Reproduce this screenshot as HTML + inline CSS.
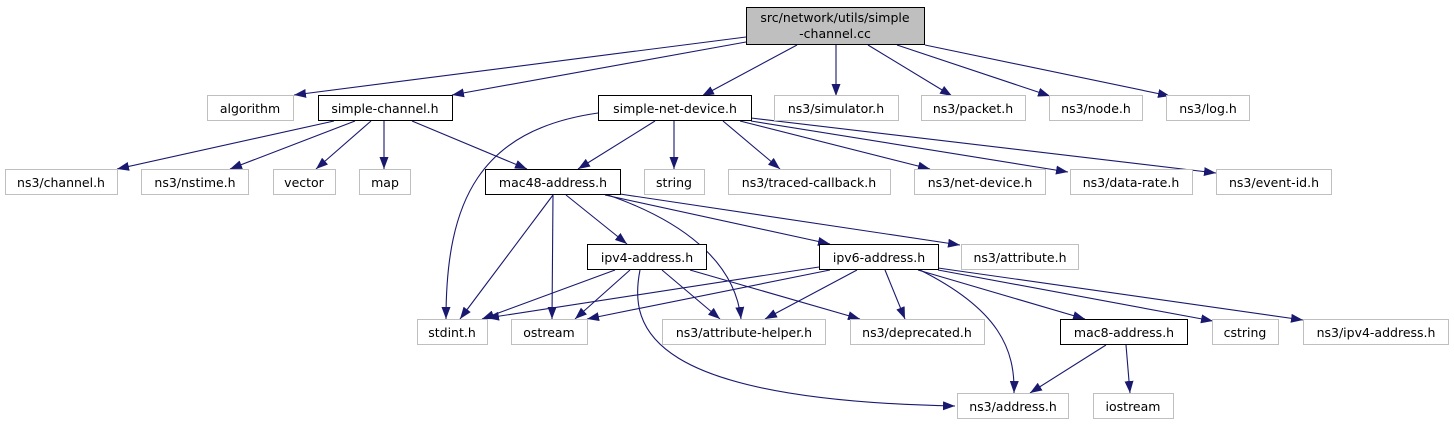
<!DOCTYPE html>
<html><head><meta charset="utf-8"><style>
html,body{margin:0;padding:0;background:#fff;width:1454px;height:425px;overflow:hidden}
svg{display:block}
text{font-family:"DejaVu Sans","Liberation Sans",sans-serif;font-size:12.5px;fill:#000;text-anchor:middle}
.e{fill:#fff;stroke:#bfbfbf;stroke-width:1}
.i{fill:#fff;stroke:#000;stroke-width:1}
.l{fill:none;stroke:#191970;stroke-width:1.1}
</style></head><body>
<svg width="1454" height="425" viewBox="0 0 1454 425" xmlns="http://www.w3.org/2000/svg">
<defs><marker id="a" viewBox="0 0 12 9" refX="12" refY="4.5" markerWidth="12" markerHeight="9" markerUnits="userSpaceOnUse" orient="auto"><path d="M0,0 L12,4.5 L0,9 z" fill="#191970"/></marker></defs>
<g marker-end="url(#a)">
<path class="l" d="M746,37 L294,95"/>
<path class="l" d="M746,42 L452,95"/>
<path class="l" d="M797,45 L702,96"/>
<path class="l" d="M836,45 L836,96"/>
<path class="l" d="M868,45 L952,96"/>
<path class="l" d="M897,45 L1050,96"/>
<path class="l" d="M925,45 L1170,96"/>
<path class="l" d="M334,121 L117,169"/>
<path class="l" d="M355,121 L230,169"/>
<path class="l" d="M371,121 L316,169"/>
<path class="l" d="M384,121 L384,169"/>
<path class="l" d="M412,121 L527,169"/>
<path class="l" d="M598,113 C480,130 446,200 446,319"/>
<path class="l" d="M655,121 L578,169"/>
<path class="l" d="M674,121 L674,169"/>
<path class="l" d="M723,121 L780,169"/>
<path class="l" d="M740,121 L930,169"/>
<path class="l" d="M751,121 L1068,172"/>
<path class="l" d="M751,118 L1216,173"/>
<path class="l" d="M553,195 L460,319"/>
<path class="l" d="M553,195 L552,319"/>
<path class="l" d="M566,195 L627,244"/>
<path class="l" d="M608,195 C680,220 735,260 741,319"/>
<path class="l" d="M605,195 L830,244"/>
<path class="l" d="M620,194 L960,245"/>
<path class="l" d="M615,270 L482,319"/>
<path class="l" d="M630,270 L575,319"/>
<path class="l" d="M640,270 C628,330 650,400 955,406"/>
<path class="l" d="M662,270 L720,319"/>
<path class="l" d="M690,270 L860,319"/>
<path class="l" d="M819,267 L487,318"/>
<path class="l" d="M830,270 L587,319"/>
<path class="l" d="M857,270 L765,319"/>
<path class="l" d="M885,270 L905,319"/>
<path class="l" d="M920,270 C1000,310 1015,350 1014,393"/>
<path class="l" d="M918,270 L1085,319"/>
<path class="l" d="M938,270 L1213,321"/>
<path class="l" d="M938,268 L1303,320"/>
<path class="l" d="M1106,345 L1030,393"/>
<path class="l" d="M1126,345 L1130,393"/>
</g>
<rect x="746.5" y="7.5" width="178" height="37" fill="#bfbfbf" stroke="#000"/>
<text x="835" y="22">src/network/utils/simple</text>
<text x="835" y="38">-channel.cc</text>
<rect class="e" x="207.5" y="95.5" width="86" height="25"/><text x="250" y="113">algorithm</text>
<rect class="i" x="318.5" y="95.5" width="134" height="25"/><text x="385" y="113">simple-channel.h</text>
<rect class="i" x="598.5" y="95.5" width="153" height="25"/><text x="675" y="113">simple-net-device.h</text>
<rect class="e" x="774.5" y="95.5" width="124" height="25"/><text x="836" y="113">ns3/simulator.h</text>
<rect class="e" x="921.5" y="95.5" width="104" height="25"/><text x="973" y="113">ns3/packet.h</text>
<rect class="e" x="1049.5" y="95.5" width="93" height="25"/><text x="1096" y="113">ns3/node.h</text>
<rect class="e" x="1166.5" y="95.5" width="83" height="25"/><text x="1208" y="113">ns3/log.h</text>
<rect class="e" x="5.5" y="169.5" width="112" height="25"/><text x="61" y="187">ns3/channel.h</text>
<rect class="e" x="141.5" y="169.5" width="107" height="25"/><text x="195" y="187">ns3/nstime.h</text>
<rect class="e" x="273.5" y="169.5" width="62" height="25"/><text x="304" y="187">vector</text>
<rect class="e" x="359.5" y="169.5" width="51" height="25"/><text x="385" y="187">map</text>
<rect class="i" x="485.5" y="169.5" width="135" height="25"/><text x="553" y="187">mac48-address.h</text>
<rect class="e" x="644.5" y="169.5" width="60" height="25"/><text x="674" y="187">string</text>
<rect class="e" x="728.5" y="169.5" width="162" height="25"/><text x="809" y="187">ns3/traced-callback.h</text>
<rect class="e" x="914.5" y="169.5" width="131" height="25"/><text x="980" y="187">ns3/net-device.h</text>
<rect class="e" x="1070.5" y="169.5" width="122" height="25"/><text x="1131" y="187">ns3/data-rate.h</text>
<rect class="e" x="1216.5" y="169.5" width="115" height="25"/><text x="1274" y="187">ns3/event-id.h</text>
<rect class="i" x="587.5" y="244.5" width="119" height="25"/><text x="647" y="262">ipv4-address.h</text>
<rect class="i" x="819.5" y="244.5" width="119" height="25"/><text x="879" y="262">ipv6-address.h</text>
<rect class="e" x="961.5" y="244.5" width="117" height="25"/><text x="1020" y="262">ns3/attribute.h</text>
<rect class="e" x="417.5" y="319.5" width="70" height="25"/><text x="452" y="337">stdint.h</text>
<rect class="e" x="511.5" y="319.5" width="76" height="25"/><text x="549" y="337">ostream</text>
<rect class="e" x="662.5" y="319.5" width="163" height="25"/><text x="744" y="337">ns3/attribute-helper.h</text>
<rect class="e" x="850.5" y="319.5" width="134" height="25"/><text x="917" y="337">ns3/deprecated.h</text>
<rect class="i" x="1060.5" y="319.5" width="127" height="25"/><text x="1124" y="337">mac8-address.h</text>
<rect class="e" x="1212.5" y="319.5" width="66" height="25"/><text x="1245" y="337">cstring</text>
<rect class="e" x="1303.5" y="319.5" width="145" height="25"/><text x="1376" y="337">ns3/ipv4-address.h</text>
<rect class="e" x="957.5" y="393.5" width="111" height="25"/><text x="1013" y="411">ns3/address.h</text>
<rect class="e" x="1093.5" y="393.5" width="80" height="25"/><text x="1133" y="411">iostream</text>
</svg>
</body></html>
